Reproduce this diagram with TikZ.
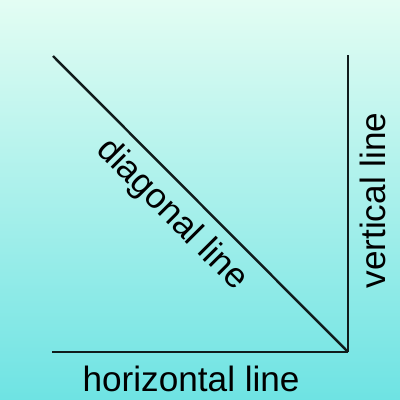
\documentclass[tikz,border=0pt]{standalone}
\usepackage{fontspec}
\setmainfont{Liberation Sans}
\usepackage{tikz}
\usetikzlibrary{positioning}
\definecolor{bgtop}{RGB}{227,253,243}
\definecolor{bgbottom}{RGB}{110,227,227}
\definecolor{ink}{RGB}{16,28,28}

\begin{document}
\begin{tikzpicture}[x=0.01cm, y=-0.01cm, font=\fontsize{10}{12}\selectfont,
		edge/.style={draw=ink, line width=0.7pt},
		lbl/.style={text=black, inner sep=0pt, sloped}]
		\shade[top color=bgtop, bottom color=bgbottom] (0,0) rectangle (400,400);
		\useasboundingbox (0,0) rectangle (400,400);
		\coordinate (start) at (53,56);
		\coordinate (top) at (348,55);
		\coordinate (left) at (52,352);
		\coordinate (corner) at (348,352);
		\draw[edge] (start) -- node[lbl, pos=0.47, below=3pt] {diagonal line} (corner);
		\draw[edge] (corner) -- node[lbl, pos=0.51, below=3pt] {vertical line} (top);
		\draw[edge] (left) -- node[lbl, pos=0.47, below=3.5pt] {horizontal line} (corner);
	\end{tikzpicture}
\end{document}
